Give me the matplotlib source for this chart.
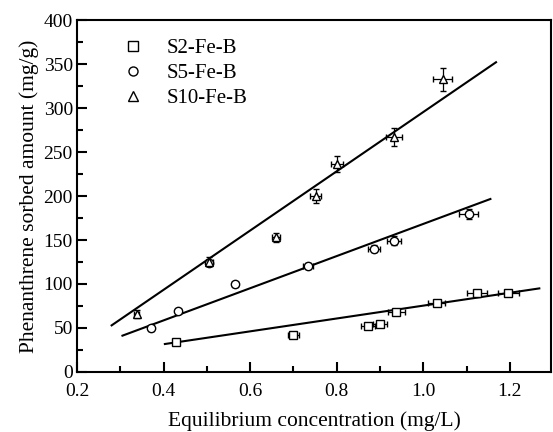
import matplotlib
matplotlib.use("Agg")
import matplotlib.pyplot as plt
from matplotlib.ticker import MultipleLocator
from matplotlib.lines import Line2D

plt.rcParams['font.family'] = ['Liberation Serif', 'DejaVu Serif']

# S2-Fe-B (squares)
s2_x = [0.428, 0.700, 0.873, 0.900, 0.938, 1.031, 1.123, 1.196]
s2_y = [34.5, 41.5, 52.5, 54.5, 68.5, 78.0, 89.5, 89.5]
s2_xerr = [0.007, 0.012, 0.016, 0.016, 0.019, 0.019, 0.023, 0.024]
s2_yerr = [2.5, 2.5, 2.5, 2.5, 2.5, 2.5, 3.0, 3.0]

# S5-Fe-B (circles)
s5_x = [0.371, 0.434, 0.505, 0.565, 0.733, 0.887, 0.933, 1.105]
s5_y = [49.6, 68.9, 124.0, 99.6, 120.0, 140.0, 149.0, 179.5]
s5_xerr = [0.005, 0.006, 0.007, 0.008, 0.012, 0.014, 0.016, 0.022]
s5_yerr = [3.0, 3.0, 3.0, 3.0, 3.5, 4.0, 5.0, 6.0]

# S10-Fe-B (triangles)
s10_x = [0.338, 0.506, 0.660, 0.751, 0.800, 0.932, 1.045]
s10_y = [65.9, 125.4, 153.0, 200.4, 236.4, 266.7, 332.6]
s10_xerr = [0.006, 0.008, 0.010, 0.012, 0.014, 0.019, 0.022]
s10_yerr = [4.0, 5.0, 5.0, 8.0, 9.0, 10.4, 13.0]

# Linear fit lines (end points)
fit2_x = [0.403, 1.268]
fit2_y = [31.8, 95.0]
fit5_x = [0.305, 1.155]
fit5_y = [41.3, 196.6]
fit10_x = [0.280, 1.168]
fit10_y = [53.0, 352.0]

labels = ['S2-Fe-B', 'S5-Fe-B', 'S10-Fe-B']

fig = plt.figure(figsize=(5.53, 4.32), dpi=100)
ax = fig.add_axes([77/553, 1-372/432, (551-77)/553, (372-20)/432])

ax.plot(fit2_x, fit2_y, color='black', lw=1.5, zorder=1)
ax.plot(fit5_x, fit5_y, color='black', lw=1.5, zorder=1)
ax.plot(fit10_x, fit10_y, color='black', lw=1.5, zorder=1)

common = dict(color='black', mfc='white', mec='black', ls='none', ms=6,
              mew=1.0, elinewidth=0.9, capsize=2.5, capthick=0.9, zorder=3)
ax.errorbar(s2_x, s2_y, xerr=s2_xerr, yerr=s2_yerr, marker='s', **common)
ax.errorbar(s5_x, s5_y, xerr=s5_xerr, yerr=s5_yerr, marker='o', **common)
ax.errorbar(s10_x, s10_y, xerr=s10_xerr, yerr=s10_yerr, marker='^', **common)

handles = [Line2D([], [], marker=m, ls='none', mfc='white', mec='black', ms=6.5, mew=1.0)
           for m in ['s', 'o', '^']]
ax.legend(handles, labels, loc='upper left', bbox_to_anchor=(0.07, 0.97),
          frameon=False, fontsize=15, handletextpad=0.9, labelspacing=0.25,
          borderaxespad=0.0, handlelength=1.4)

ax.set_xlim(0.2, 1.295)
ax.set_ylim(0, 400)
ax.xaxis.set_major_locator(MultipleLocator(0.2))
ax.xaxis.set_minor_locator(MultipleLocator(0.1))
ax.yaxis.set_major_locator(MultipleLocator(50))
ax.yaxis.set_minor_locator(MultipleLocator(25))
ax.xaxis.set_major_formatter(matplotlib.ticker.FormatStrFormatter('%.1f'))

ax.tick_params(which='both', direction='in', top=False, right=False, labelsize=14,
               width=1.5)
ax.tick_params(which='major', length=7)
ax.tick_params(which='minor', length=4)
ax.tick_params(axis='x', pad=8)
ax.tick_params(axis='y', pad=3)
for s in ax.spines.values():
    s.set_linewidth(1.5)

ax.set_xlabel('Equilibrium concentration (mg/L)', fontsize=15.5, labelpad=8)
ax.set_ylabel('Phenanthrene sorbed amount (mg/g)', fontsize=15.5, labelpad=3)

fig.savefig('out.png', dpi=100)
